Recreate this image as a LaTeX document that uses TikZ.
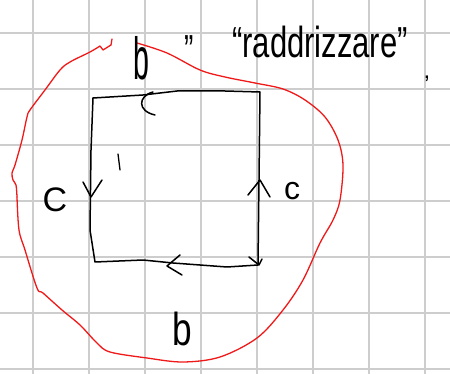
\documentclass[tikz,border=0pt]{standalone}
\usepackage{fontspec}
\setmainfont{Liberation Sans}
\definecolor{gridgray}{RGB}{205,205,205}
\definecolor{inkred}{RGB}{240,25,25}

\begin{document}
\begin{tikzpicture}[x=1pt,y=-1pt,line cap=round,line join=round]
        \useasboundingbox (0,0) rectangle (450,374);
        % Quadretti
        \foreach \k in {0,...,7} {
          \draw[gridgray,line width=1.4pt] (33+56*\k,0) -- (33+56*\k,374);
        }
        \foreach \k in {0,...,6} {
          \draw[gridgray,line width=1.4pt] (0,33+56*\k) -- (450,33+56*\k);
        }

        % Curva rossa
        \draw[inkred,line width=1.3pt] plot[smooth,tension=0.55] coordinates {(137,43) (167,53) (200,70) (225,77) (255,83) (283,89) (305,100) (325,117) (338,140) (343,165) (340,200) (333,220) (320,243) (303,280) (283,310) (257,338) (220,357) (183,362) (147,358) (110,352) (97,343) (80,325) (62,310) (43,293) (37,288) (25,250) (19,230) (17,197)};
        \draw[inkred,line width=1.3pt] plot[smooth,tension=0.55] coordinates {(17,197) (16,185) (13,180) (12,173) (15,165) (22,140) (27,117) (30,110) (45,90) (60,70) (70,62) (90,52) (100,46)} -- (103,50) -- (111,45) -- (112,39);

        % Quadrato
        \draw[line width=1.5pt] (93,98) -- (143,95) -- (177,91) -- (225,91) -- (260,92) -- (259,180) -- (258,264);
        \draw[line width=1.5pt] (93,98) -- (91,150) -- (90,230) -- (95,262) -- (143,260) -- (173,263) -- (227,267) -- (258,265);
        % Frecce
        \draw[line width=1.5pt] (83,182) -- (91,197) -- (102,180);
        \draw[line width=1.5pt] (248,195) -- (260,180) -- (270,197);
        \draw[line width=1.5pt] (180,255) -- (167,266) -- (182,275);
        \draw[line width=1.5pt] (249,257) -- (259,265) -- (262,259);
        \draw[line width=1.5pt] (153,92) .. controls (138,96) and (137,111) .. (155,115);
        \draw[line width=1.3pt] (118,154) -- (120,170);

        % Etichette
        \node[font=\fontsize{44}{44}\selectfont,anchor=base,inner sep=0pt,xscale=0.65,yscale=1.35] (btop) at (141,80) {b};
        \node[font=\fontsize{44}{44}\selectfont,anchor=base,inner sep=0pt,xscale=0.8,yscale=1.05] (bbot) at (182,345) {b};
        \node[font=\fontsize{34}{34}\selectfont,anchor=base,inner sep=0pt] (cleft) at (55,212) {C};
        \node[font=\fontsize{32}{32}\selectfont,anchor=base,inner sep=0pt] (cright) at (292,200) {c};
        \node[font=\fontsize{28}{28}\selectfont,anchor=base west,inner sep=0pt,yscale=1.5] (quote) at (184,65) {''};
        \node[font=\fontsize{31}{31}\selectfont,anchor=base west,inner sep=0pt,yscale=1.4] (word) at (232,58) {``raddrizzare''};
        \node[font=\fontsize{24}{24}\selectfont,anchor=base,inner sep=0pt] (comma) at (427,79) {,};
    \end{tikzpicture}
\end{document}
